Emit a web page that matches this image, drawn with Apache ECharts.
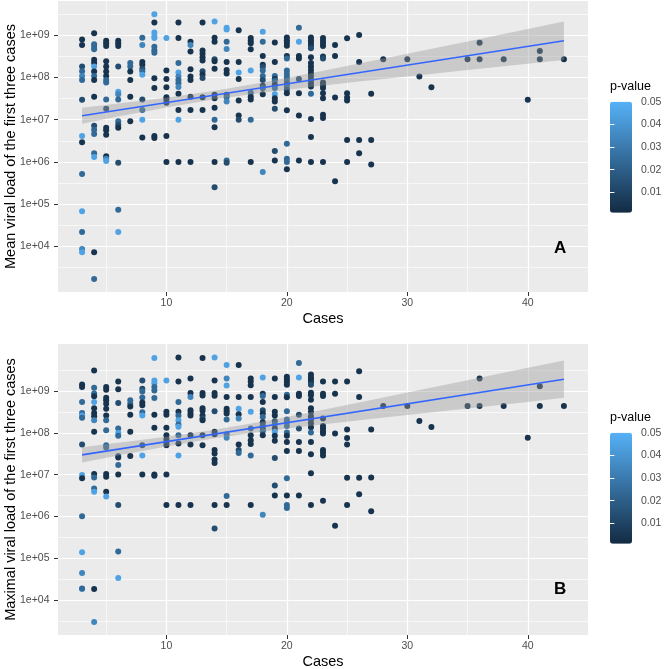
<!DOCTYPE html>
<html><head><meta charset="utf-8">
<script src="https://cdn.jsdelivr.net/npm/echarts@6/dist/echarts.min.js"></script>
<style>html,body{margin:0;padding:0;background:#fff}#c{width:664px;height:669px}</style>
</head><body><div id="c"></div>
<script>
// [cases, mean viral load of first three cases, p-value]
const meanLoadA = [
[3,7.9e8,.004],[3,5.8e8,.004],[3,1.8e8,.013],[3,1.4e8,.024],[3,1.08e8,.034],[3,8.7e7,.024],[3,2.96e7,.013],[3,4.1e6,.045],[3,2.9e6,.004],[3,5.2e5,.024],[3,6.8e4,.045],[3,2.2e4,.024],[3,8.7e3,.034],[3,7.3e3,.045],
[4,1.1e9,.004],[4,6.1e8,.024],[4,5.3e8,.024],[4,4.6e8,.024],[4,2.6e8,.004],[4,2.2e8,.004],[4,1.8e8,.045],[4,1.37e8,.004],[4,1.08e8,.024],[4,8.7e7,.004],[4,3.5e7,.004],[4,7.2e6,.013],[4,5.8e6,.024],[4,4.6e6,.024],[4,1.6e6,.024],[4,1.3e6,.045],[4,7.3e3,.004],[4,1.7e3,.024],
[5,7.4e8,.004],[5,6.4e8,.004],[5,5.5e8,.004],[5,2.4e8,.004],[5,1.8e8,.004],[5,1.37e8,.004],[5,1.08e8,.004],[5,8.7e7,.024],[5,7.6e7,.024],[5,3.0e7,.024],[5,1.8e7,.013],[5,6.4e6,.004],[5,5.6e6,.004],[5,4.4e6,.004],[5,1.37e6,.004],[5,1.19e6,.034],[5,1.05e6,.045],
[6,7.4e8,.004],[6,6.4e8,.004],[6,5.5e8,.004],[6,1.8e8,.013],[6,4.6e7,.045],[6,4.0e7,.034],[6,3.0e7,.024],[6,9.1e6,.024],[6,7.6e6,.013],[6,6.4e6,.004],[6,9.6e5,.013],[6,7.4e4,.024],[6,2.2e4,.045],
[7,2.2e8,.024],[7,1.8e8,.024],[7,1.37e8,.004],[7,8.7e7,.004],[7,3.5e7,.004],[7,9.1e6,.004],
[8,8.7e8,.024],[8,5.8e8,.034],[8,2.3e8,.004],[8,2.0e8,.004],[8,1.6e8,.013],[8,1.4e8,.024],[8,1.15e8,.045],[8,3.0e7,.013],[8,1.7e7,.024],[8,1.0e7,.045],[8,3.8e6,.004],
[9,3.1e9,.045],[9,2.0e9,.004],[9,1.16e9,.045],[9,9.5e8,.045],[9,8.6e8,.045],[9,5.3e8,.024],[9,4.4e8,.024],[9,3.8e8,.024],[9,9.5e7,.004],[9,5.6e7,.004],[9,4.1e6,.004],[9,3.7e6,.004],
[10,8.6e8,.045],[10,1.45e8,.004],[10,9.2e7,.004],[10,5.8e7,.004],[10,3.4e7,.004],[10,3.0e7,.004],[10,2.5e7,.004],[10,4.1e6,.004],[10,9.9e5,.004],
[11,2.0e9,.004],[11,8.6e8,.004],[11,2.2e8,.024],[11,1.3e8,.045],[11,1.05e8,.034],[11,8.7e7,.024],[11,7.3e7,.024],[11,5.9e7,.034],[11,4.1e7,.004],[11,1.7e7,.004],[11,1.0e7,.045],[11,1.0e6,.004],
[12,7.0e8,.004],[12,5.8e8,.034],[12,4.1e8,.004],[12,1.55e8,.004],[12,1.05e8,.004],[12,8.7e7,.004],[12,3.5e7,.004],[12,1.7e7,.004],[12,1.0e6,.004],
[13,2.0e9,.004],[13,4.3e8,.004],[13,3.6e8,.004],[13,3.0e8,.004],[13,2.5e8,.004],[13,1.4e8,.013],[13,1.17e8,.004],[13,9.7e7,.013],[13,3.4e7,.004],[13,1.7e7,.004],
[14,2.1e9,.045],[14,8.7e8,.004],[14,7.0e8,.004],[14,2.7e8,.013],[14,2.4e8,.004],[14,1.6e8,.004],[14,3.9e7,.004],[14,3.2e7,.004],[14,1.9e7,.004],[14,1.0e7,.024],[14,6.6e6,.004],[14,1.0e6,.004],[14,2.5e5,.013],
[15,1.5e9,.045],[15,1.36e9,.045],[15,7.0e8,.024],[15,4.7e8,.034],[15,2.3e8,.004],[15,1.5e8,.004],[15,1.23e8,.004],[15,3.9e7,.013],[15,3.4e7,.024],[15,2.7e7,.034],[15,1.08e6,.024],[15,9.6e5,.013],
[16,1.3e9,.004],[16,2.3e8,.004],[16,1.3e8,.045],[16,9.2e7,.004],[16,2.85e7,.004],[16,1.26e7,.004],[16,1.0e7,.013],
[17,8.6e8,.004],[17,7.4e8,.004],[17,6.4e8,.004],[17,4.6e8,.004],[17,1.45e8,.045],[17,4.3e7,.024],[17,3.5e7,.004],[17,3.0e7,.004],[17,1.0e7,.024],[17,1.0e6,.004],
[18,1.2e9,.045],[18,7.0e8,.024],[18,3.2e8,.004],[18,2.0e8,.004],[18,1.77e8,.013],[18,1.45e8,.024],[18,1.08e8,.024],[18,8.7e7,.013],[18,6.3e7,.004],[18,5.5e7,.024],[18,4.0e7,.004],[18,5.8e5,.034],
[19,6.7e8,.004],[19,2.3e8,.004],[19,1.08e8,.024],[19,9.2e7,.004],[19,8.3e7,.024],[19,6.7e7,.004],[19,5.6e7,.024],[19,4.0e7,.045],[19,3.2e7,.004],[19,2.7e7,.004],[19,1.8e7,.013],[19,1.8e6,.013],[19,1.08e6,.004],
[20,8.8e8,.004],[20,7.6e8,.004],[20,6.6e8,.004],[20,5.6e8,.004],[20,3.2e8,.004],[20,2.8e8,.024],[20,1.45e8,.024],[20,1.2e8,.024],[20,1.0e8,.024],[20,8.4e7,.024],[20,7.0e7,.013],[20,6.0e7,.024],[20,5.1e7,.013],[20,4.2e7,.004],[20,1.66e7,.004],[20,2.7e6,.024],[20,1.19e6,.024],[20,1.0e6,.024],[20,6.7e5,.004],
[21,1.5e9,.024],[21,7.0e8,.045],[21,3.2e8,.004],[21,2.8e8,.004],[21,9.2e7,.013],[21,4.2e7,.004],[21,1.26e7,.004],[21,1.08e6,.004],
[22,8.8e8,.004],[22,7.6e8,.004],[22,6.6e8,.004],[22,5.6e8,.004],[22,4.9e8,.013],[22,3.0e8,.004],[22,2.2e8,.004],[22,1.8e8,.004],[22,1.5e8,.004],[22,1.23e8,.004],[22,1.03e8,.004],[22,8.6e7,.004],[22,7.2e7,.004],[22,6.1e7,.004],[22,4.1e7,.024],[22,1.04e7,.004],[22,3.9e6,.004],[22,1.0e6,.004],
[23,8.6e8,.004],[23,7.4e8,.004],[23,6.4e8,.004],[23,5.5e8,.004],[23,3.1e8,.004],[23,2.8e8,.013],[23,7.6e7,.004],[23,6.5e7,.004],[23,5.6e7,.004],[23,4.2e7,.004],[23,3.2e7,.004],[23,1.3e7,.004],[23,1.1e7,.004],[23,1.0e6,.004],
[24,5.8e8,.004],[24,3.2e8,.004],[24,3.35e7,.004],[24,3.5e5,.004],
[25,8.4e8,.004],[25,4.2e7,.004],[25,3.35e7,.004],[25,2.85e7,.004],[25,3.3e6,.004],[25,1.0e6,.004],
[26,1.0e9,.004],[26,2.3e8,.004],[26,3.3e6,.004],[26,1.6e6,.004],
[27,4.1e7,.004],[27,3.3e6,.004],[27,8.7e5,.004],
[28,2.7e8,.004],[30,2.7e8,.004],[31,1.05e8,.004],[32,5.8e7,.004],[35,2.7e8,.004],[36,6.6e8,.004],[36,2.7e8,.004],
[38,2.7e8,.004],[40,2.96e7,.004],[41,4.2e8,.004],[41,2.7e8,.004],[43,2.7e8,.004]
];

// [cases, maximal viral load of first three cases, p-value]
const maxLoadB = [
[3,1.44e9,.004],[3,1.25e9,.004],[3,5.5e8,.024],[3,3.0e8,.024],[3,2.6e8,.045],[3,2.3e8,.024],[3,5.3e7,.013],[3,9.8e6,.045],[3,8.2e6,.004],[3,1.02e6,.024],[3,1.4e5,.045],[3,4.5e4,.034],[3,1.86e4,.045],[3,1.9e4,.024],
[4,3.1e9,.004],[4,1.2e9,.024],[4,8.8e8,.024],[4,7.5e8,.004],[4,5.5e8,.045],[4,3.9e8,.004],[4,3.0e8,.004],[4,2.5e8,.004],[4,2.0e8,.034],[4,1.06e8,.004],[4,1.04e7,.004],[4,8.6e6,.024],[4,4.7e6,.024],[4,3.9e6,.045],[4,1.86e4,.004],[4,3.0e3,.034],
[5,1.25e9,.004],[5,1.08e9,.004],[5,6.9e8,.004],[5,6.0e8,.004],[5,5.0e8,.004],[5,3.8e8,.004],[5,2.6e8,.004],[5,2.0e8,.024],[5,1.16e8,.024],[5,5.1e7,.024],[5,4.5e7,.024],[5,1.04e7,.004],[5,9.0e6,.004],[5,3.9e6,.004],[5,3.0e6,.045],
[6,1.7e9,.004],[6,1.1e9,.004],[6,5.2e8,.013],[6,1.27e8,.024],[6,1.0e8,.045],[6,8.5e7,.024],[6,2.8e7,.024],[6,2.6e7,.004],[6,1.7e7,.024],[6,1.02e7,.004],[6,1.9e6,.013],[6,1.47e5,.024],[6,3.4e4,.045],
[7,6.0e8,.024],[7,5.0e8,.024],[7,4.3e8,.004],[7,2.7e8,.004],[7,1.06e8,.004],[7,2.8e7,.004],
[8,1.8e9,.013],[8,1.14e9,.013],[8,9.8e8,.024],[8,7.0e8,.024],[8,5.3e8,.004],[8,4.6e8,.004],[8,3.1e8,.024],[8,2.6e8,.045],[8,5.1e7,.013],[8,2.9e7,.045],[8,1.02e7,.004],
[9,6.2e9,.045],[9,1.8e9,.045],[9,1.55e9,.045],[9,1.25e9,.024],[9,1.04e9,.024],[9,6.8e8,.024],[9,2.7e8,.004],[9,1.32e8,.004],[9,1.02e7,.004],[9,9.5e6,.004],
[10,1.8e9,.045],[10,3.2e8,.004],[10,2.7e8,.004],[10,1.32e8,.004],[10,8.8e7,.004],[10,7.1e7,.004],[10,5.9e7,.004],[10,5.1e7,.004],[10,1.02e7,.004],[10,1.9e6,.004],
[11,6.4e9,.004],[11,1.7e9,.004],[11,5.5e8,.024],[11,3.2e8,.004],[11,2.6e8,.024],[11,2.0e8,.045],[11,1.6e8,.024],[11,1.4e8,.045],[11,8.8e7,.024],[11,5.6e7,.004],[11,2.9e7,.045],[11,1.9e6,.004],
[12,2.0e9,.004],[12,9.0e8,.004],[12,7.2e8,.034],[12,3.5e8,.004],[12,3.0e8,.004],[12,2.6e8,.004],[12,8.8e7,.004],[12,5.3e7,.004],[12,1.9e6,.004],
[13,6.2e9,.004],[13,9.0e8,.004],[13,7.8e8,.004],[13,3.9e8,.004],[13,3.4e8,.004],[13,2.6e8,.004],[13,2.2e8,.013],[13,2.0e8,.004],[13,8.8e7,.004],[13,5.1e7,.004],
[14,6.4e9,.045],[14,1.8e9,.004],[14,9.0e8,.004],[14,7.7e8,.004],[14,3.3e8,.013],[14,1.06e8,.004],[14,9.3e7,.004],[14,3.9e7,.004],[14,3.2e7,.004],[14,2.3e7,.004],[14,1.9e7,.004],[14,1.9e6,.004],[14,5.2e5,.013],
[15,4.2e9,.045],[15,2.0e9,.034],[15,1.36e9,.045],[15,7.2e8,.004],[15,3.8e8,.004],[15,3.3e8,.004],[15,2.9e8,.004],[15,2.1e8,.024],[15,9.3e7,.024],[15,7.7e7,.034],[15,3.1e6,.024],[15,1.9e6,.004],
[16,4.2e9,.004],[16,7.2e8,.004],[16,3.8e8,.045],[16,2.8e8,.004],[16,2.2e8,.034],[16,5.3e7,.004],[16,3.9e7,.013],[16,3.3e7,.024],
[17,2.0e9,.004],[17,1.7e9,.004],[17,1.37e9,.004],[17,7.2e8,.004],[17,3.2e8,.045],[17,1.27e8,.024],[17,8.8e7,.004],[17,6.7e7,.004],[17,5.4e7,.004],[17,2.9e7,.024],[17,1.9e6,.004],
[18,2.1e9,.045],[18,8.6e8,.004],[18,7.6e8,.024],[18,5.5e8,.004],[18,3.5e8,.013],[18,2.9e8,.004],[18,2.4e8,.024],[18,1.8e8,.004],[18,1.5e8,.013],[18,1.27e8,.004],[18,1.1e8,.024],[18,8.8e7,.004],[18,1.1e6,.034],
[19,2.0e9,.004],[19,7.2e8,.004],[19,3.2e8,.004],[19,2.6e8,.004],[19,1.9e8,.013],[19,1.58e8,.024],[19,1.27e8,.004],[19,1.06e8,.045],[19,8.5e7,.004],[19,6.5e7,.004],[19,2.5e7,.013],[19,5.5e6,.013],[19,3.2e6,.004],
[20,2.2e9,.004],[20,1.9e9,.004],[20,1.64e9,.004],[20,1.42e9,.004],[20,8.2e8,.024],[20,7.1e8,.004],[20,3.3e8,.024],[20,2.1e8,.024],[20,1.77e8,.024],[20,1.47e8,.024],[20,1.02e8,.024],[20,8.5e7,.004],[20,6.1e7,.004],[20,3.7e7,.004],[20,8.2e6,.024],[20,3.2e6,.004],[20,1.9e6,.024],[20,1.6e6,.024],
[21,4.7e9,.024],[21,2.1e9,.045],[21,8.6e8,.004],[21,7.6e8,.004],[21,2.7e8,.013],[21,1.27e8,.013],[21,6.1e7,.004],[21,3.7e7,.004],[21,3.2e6,.004],
[22,2.5e9,.004],[22,2.1e9,.004],[22,1.9e9,.004],[22,1.64e9,.004],[22,1.42e9,.013],[22,9.1e8,.004],[22,7.9e8,.004],[22,6.2e8,.004],[22,3.9e8,.004],[22,3.2e8,.004],[22,2.5e8,.004],[22,2.1e8,.004],[22,1.7e8,.004],[22,1.37e8,.004],[22,1.02e8,.024],[22,6.1e7,.004],[22,3.1e7,.004],[22,1.08e7,.004],[22,1.9e6,.004],
[23,1.7e9,.004],[23,8.6e8,.004],[23,7.6e8,.004],[23,2.2e8,.004],[23,1.47e8,.004],[23,1.27e8,.004],[23,1.1e8,.004],[23,9.7e7,.004],[23,3.9e7,.004],[23,3.4e7,.004],[23,2.9e7,.004],[23,2.4e6,.004],
[24,1.7e9,.004],[24,8.6e8,.004],[24,9.7e7,.004],[24,6.0e5,.004],
[25,1.7e9,.004],[25,1.2e8,.004],[25,7.6e7,.004],[25,5.3e7,.004],[25,8.5e6,.004],[25,1.9e6,.004],
[26,3.0e9,.004],[26,7.2e8,.004],[26,8.5e6,.004],[26,3.4e6,.004],
[27,1.2e8,.004],[27,8.6e6,.004],[27,1.34e6,.004],
[28,4.4e8,.004],[30,4.4e8,.004],[31,1.93e8,.004],[32,1.39e8,.004],[35,4.4e8,.004],[36,2.0e9,.004],[36,4.4e8,.004],
[38,4.4e8,.004],[40,7.7e7,.004],[41,1.3e9,.004],[41,4.4e8,.004],[43,4.4e8,.004]
];

// linear fit (log scale) and its confidence band
const fitCases  = [3, 6, 10, 14, 18, 22, 26, 30, 35, 40, 43];
const bandLowA  = [8.04e6, 1.186e7, 1.945e7, 3.02e7, 4.35e7, 5.94e7, 7.94e7, 1.052e8, 1.49e8, 2.10e8, 2.58e8];
const bandHighA = [1.92e7, 2.40e7, 3.30e7, 4.81e7, 7.59e7, 1.253e8, 2.12e8, 3.61e8, 7.10e8, 1.393e9, 2.094e9];
const bandLowB  = [1.95e7, 2.88e7, 4.75e7, 7.45e7, 1.079e8, 1.49e8, 2.01e8, 2.68e8, 3.83e8, 5.46e8, 6.92e8];
const bandHighB = [4.57e7, 5.82e7, 8.07e7, 1.186e8, 1.884e8, 3.14e8, 5.36e8, 9.20e8, 1.824e9, 3.62e9, 5.37e9];
const fitCasesEnds = [3, 43];
const fitA = [1.24e7, 7.35e8];
const fitB = [2.99e7, 1.92e9];

// axis ticks
const xTicks = [10, 20, 30, 40];
const xMinorTicks = [5, 15, 25, 35];
const yTicks = [1e4, 1e5, 1e6, 1e7, 1e8, 1e9];
const yMinorExps = [3.5, 4.5, 5.5, 6.5, 7.5, 8.5, 9.5];
const pTicks = [0.01, 0.02, 0.03, 0.04, 0.05];
const pInnerTicks = [0.01, 0.02, 0.03, 0.04];

const F = '"Liberation Sans", Arial, Helvetica, sans-serif';
const yMinorTicks = yMinorExps.map(e => Math.pow(10, e));
const expLabel = v => { const e = Math.round(Math.log10(v)); return '1e+' + String(e).padStart(2, '0'); };

const grids = [
  { left: 58, top: 1, width: 530, height: 291, show: true, backgroundColor: '#EBEBEB', borderWidth: 0, outerBoundsMode: 'none', containLabel: false },
  { left: 58, top: 344, width: 530, height: 291, show: true, backgroundColor: '#EBEBEB', borderWidth: 0, outerBoundsMode: 'none', containLabel: false },
  { left: 610, top: 101.7, width: 22, height: 111, show: false, outerBoundsMode: 'none', containLabel: false },
  { left: 610, top: 432.7, width: 22, height: 111, show: false, outerBoundsMode: 'none', containLabel: false }
];

function mainX(gi) {
  return { type: 'value', gridIndex: gi, min: 1, max: 45, name: 'Cases', nameLocation: 'middle', nameGap: 19, nameMoveOverlap: false,
    nameTextStyle: { color: '#000', fontSize: 14.5, fontFamily: F },
    axisLine: { show: false },
    axisTick: { show: true, customValues: xTicks, length: 4, lineStyle: { color: '#333', width: 1 } },
    axisLabel: { customValues: xTicks, margin: 5.5, color: '#4D4D4D', fontSize: 10.5, fontFamily: F },
    splitLine: { show: true, lineStyle: { color: '#fff', width: 1.2 } } };
}
function minorX(gi) {
  return { type: 'value', gridIndex: gi, min: 1, max: 45, position: 'bottom',
    axisLine: { show: false }, axisTick: { show: false, customValues: xMinorTicks },
    axisLabel: { show: false, customValues: xMinorTicks },
    splitLine: { show: true, lineStyle: { color: '#fff', width: 0.6 } } };
}
function mainY(gi, name, mn, mx) {
  return { type: 'log', logBase: 10, gridIndex: gi, min: mn, max: mx, name: name, nameLocation: 'middle', nameGap: 40, nameMoveOverlap: false,
    nameTextStyle: { color: '#000', fontSize: 14.5, fontFamily: F },
    axisLine: { show: false },
    axisTick: { show: true, customValues: yTicks, length: 4, lineStyle: { color: '#333', width: 1 } },
    axisLabel: { customValues: yTicks, margin: 8.5, color: '#4D4D4D', fontSize: 10.5, fontFamily: F, formatter: expLabel },
    splitLine: { show: true, lineStyle: { color: '#fff', width: 1.2 } } };
}
function minorY(gi, mn, mx) {
  return { type: 'log', logBase: 10, gridIndex: gi, min: mn, max: mx, position: 'left',
    axisLine: { show: false }, axisTick: { show: false, customValues: yMinorTicks },
    axisLabel: { show: false, customValues: yMinorTicks },
    splitLine: { show: true, lineStyle: { color: '#fff', width: 0.6 } } };
}
function legendY(gi, pos, labels) {
  return { type: 'value', gridIndex: gi, min: 0.001, max: 0.05, position: pos, z: 10,
    axisLine: { show: false },
    axisTick: { show: true, inside: true, length: 4.4, customValues: pInnerTicks, lineStyle: { color: '#fff', width: 1 } },
    axisLabel: { show: labels, customValues: pTicks, margin: 9, color: '#4D4D4D', fontSize: 10.5, fontFamily: F, formatter: v => v.toFixed(2) },
    splitLine: { show: false } };
}

const AYmin = Math.pow(10, 2.922), AYmax = Math.pow(10, 9.807);
const BYmin = Math.pow(10, 3.168), BYmax = Math.pow(10, 10.126);

function band(xi, yi, low, high) {
  return { type: 'custom', xAxisIndex: xi, yAxisIndex: yi, z: 3, silent: true, clip: true,
    data: fitCases.map((c, i) => [c, low[i], high[i]]),
    encode: { x: 0, y: [1, 2] },
    renderItem: function (params, api) {
      if (params.dataIndex !== 0) return null;
      const up = fitCases.map((c, i) => api.coord([c, high[i]]));
      const lo = fitCases.map((c, i) => api.coord([c, low[i]])).reverse();
      return { type: 'polygon', shape: { points: up.concat(lo) }, style: { fill: 'rgba(153,153,153,0.4)' } };
    } };
}

const option = {
  backgroundColor: '#fff',
  animation: false,
  grid: grids,
  title: [
    { text: 'A', left: 554, top: 240, padding: 0, textStyle: { fontSize: 17, fontWeight: 'bold', color: '#000', fontFamily: F } },
    { text: 'B', left: 554, top: 581, padding: 0, textStyle: { fontSize: 17, fontWeight: 'bold', color: '#000', fontFamily: F } },
    { text: 'p-value', left: 610, top: 80, padding: 0, textStyle: { fontSize: 12.5, fontWeight: 'normal', color: '#000', fontFamily: F } },
    { text: 'p-value', left: 610, top: 411, padding: 0, textStyle: { fontSize: 12.5, fontWeight: 'normal', color: '#000', fontFamily: F } }
  ],
  xAxis: [
    mainX(0), minorX(0), mainX(1), minorX(1),
    { type: 'value', gridIndex: 2, min: 0, max: 1, show: false },
    { type: 'value', gridIndex: 3, min: 0, max: 1, show: false }
  ],
  yAxis: [
    mainY(0, 'Mean viral load of the first three cases', AYmin, AYmax), minorY(0, AYmin, AYmax),
    mainY(1, 'Maximal viral load of the first three cases', BYmin, BYmax), minorY(1, BYmin, BYmax),
    legendY(2, 'right', true), legendY(2, 'left', false),
    legendY(3, 'right', true), legendY(3, 'left', false)
  ],
  visualMap: [
    { type: 'continuous', seriesIndex: 0, dimension: 2, min: 0.001, max: 0.05, orient: 'vertical',
      left: 610, top: 101.7, itemWidth: 22, itemHeight: 111, calculable: false, hoverLink: false, padding: 0,
      inRange: { color: ['#132B43', '#56B1F7'] } },
    { type: 'continuous', seriesIndex: 1, dimension: 2, min: 0.001, max: 0.05, orient: 'vertical',
      left: 610, top: 432.7, itemWidth: 22, itemHeight: 111, calculable: false, hoverLink: false, padding: 0,
      inRange: { color: ['#132B43', '#56B1F7'] } }
  ],
  series: [
    { type: 'scatter', xAxisIndex: 0, yAxisIndex: 0, symbolSize: 6, z: 2, itemStyle: { opacity: 1 }, data: meanLoadA },
    { type: 'scatter', xAxisIndex: 2, yAxisIndex: 2, symbolSize: 6, z: 2, itemStyle: { opacity: 1 }, data: maxLoadB },
    band(0, 0, bandLowA, bandHighA),
    { type: 'line', xAxisIndex: 0, yAxisIndex: 0, symbol: 'none', z: 4, silent: true,
      lineStyle: { color: '#3366FF', width: 1.6 }, data: fitCasesEnds.map((c, i) => [c, fitA[i]]) },
    band(2, 2, bandLowB, bandHighB),
    { type: 'line', xAxisIndex: 2, yAxisIndex: 2, symbol: 'none', z: 4, silent: true,
      lineStyle: { color: '#3366FF', width: 1.6 }, data: fitCasesEnds.map((c, i) => [c, fitB[i]]) }
  ]
};

const chart = echarts.init(document.getElementById('c'), null, { renderer: 'canvas' });
chart.setOption(option);
</script>
</body></html>
